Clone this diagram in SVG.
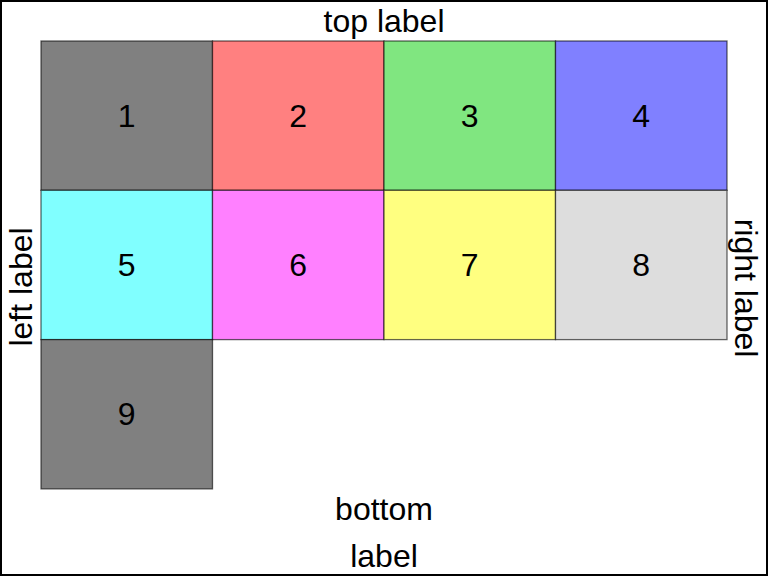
<svg xmlns="http://www.w3.org/2000/svg" width="768" height="576" viewBox="0 0 768 576">
<style>
.cell rect{stroke:#000;stroke-opacity:0.6;stroke-width:1.3}
text{font-family:"Liberation Sans",Arial,sans-serif;font-size:32px;fill:#000;text-anchor:middle;dominant-baseline:central}
</style>
<rect x="1" y="1" width="766" height="574" fill="#fff" stroke="#000" stroke-width="2"/>
<g id="cell1" class="cell"><rect x="41" y="41" width="171.5" height="149.3" fill="#808080"/><text x="126.7" y="116">1</text></g>
<g id="cell2" class="cell"><rect x="212.5" y="41" width="171.5" height="149.3" fill="#ff8080"/><text x="298.2" y="116">2</text></g>
<g id="cell3" class="cell"><rect x="384" y="41" width="171.5" height="149.3" fill="#80e680"/><text x="469.7" y="116">3</text></g>
<g id="cell4" class="cell"><rect x="555.5" y="41" width="171.5" height="149.3" fill="#8080ff"/><text x="641.2" y="116">4</text></g>
<g id="cell5" class="cell"><rect x="41" y="190.3" width="171.5" height="149.3" fill="#80ffff"/><text x="126.7" y="265">5</text></g>
<g id="cell6" class="cell"><rect x="212.5" y="190.3" width="171.5" height="149.3" fill="#ff80ff"/><text x="298.2" y="265">6</text></g>
<g id="cell7" class="cell"><rect x="384" y="190.3" width="171.5" height="149.3" fill="#ffff80"/><text x="469.7" y="265">7</text></g>
<g id="cell8" class="cell"><rect x="555.5" y="190.3" width="171.5" height="149.3" fill="#dddddd"/><text x="641.2" y="265">8</text></g>
<g id="cell9" class="cell"><rect x="41" y="339.6" width="171.5" height="149.3" fill="#808080"/><text x="126.7" y="414">9</text></g>
<g id="labels">
<text x="384" y="21">top label</text>
<text x="384" y="509">bottom</text>
<text x="384" y="556">label</text>
<text transform="translate(21,287) rotate(-90)">left label</text>
<text transform="translate(746,288) rotate(90)">right label</text>
</g>
</svg>
